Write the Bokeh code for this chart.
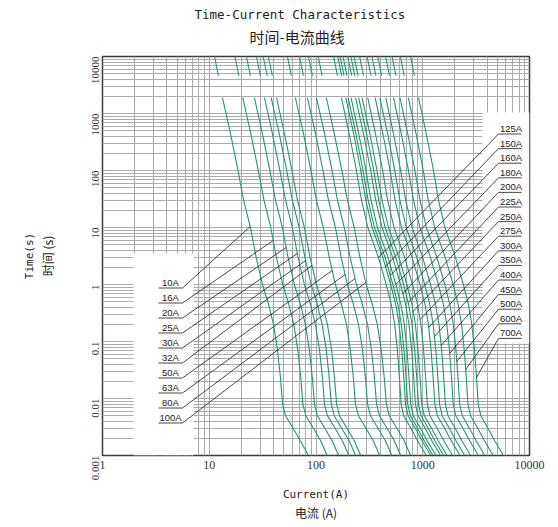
import math
import numpy as np
from bokeh.plotting import figure
from bokeh.models import FixedTicker, LogAxis, Title
from bokeh.core.properties import value
from bokeh.embed import file_html
from bokeh.resources import INLINE

# ---------------- data ----------------
ratings = ["10A", "16A", "20A", "25A", "30A", "32A", "50A", "63A", "80A", "100A",
           "125A", "150A", "160A", "180A", "200A", "225A", "250A", "275A", "300A",
           "350A", "400A", "450A", "500A", "600A", "700A"]

# time levels (s) at which each curve's current (A) was read
times = [10000, 4600, 1900, 450, 110, 30, 10, 3, 1, 0.45, 0.2, 0.07, 0.023,
         0.008, 0.005, 0.003, 0.0018, 0.001]

i_10A = [11.2, 12.2, 13.3, 15.8, 18.4, 21.0, 24.3, 27.5, 31.5, 35.9, 40.0, 43.6, 46.5, 48.6, 51.8, 61.0, 71.6, 85.0]
i_16A = [17.4, 18.9, 20.6, 24.5, 28.5, 32.6, 37.7, 42.6, 48.8, 55.6, 62.0, 67.6, 72.1, 75.3, 80.3, 94.6, 111, 127]
i_20A = [22.3, 24.3, 26.5, 31.4, 36.6, 41.8, 48.4, 54.7, 62.7, 71.4, 79.6, 86.8, 92.5, 96.7, 103, 121, 142, 163]
i_25A = [27.7, 30.1, 32.9, 39.0, 45.4, 51.9, 60.0, 67.9, 77.8, 88.7, 98.8, 108, 115, 120, 128, 151, 177, 203]
i_30A = [32.0, 34.9, 38.0, 45.2, 52.6, 60.1, 69.5, 78.7, 90.1, 103, 114, 125, 133, 139, 148, 174, 205, 235]
i_32A = [35.8, 39.0, 42.6, 50.6, 58.9, 67.2, 77.8, 88.0, 101, 115, 128, 140, 149, 156, 166, 195, 229, 262]
i_50A = [54.0, 58.8, 64.1, 76.2, 88.7, 101, 117, 133, 152, 173, 193, 210, 224, 234, 250, 294, 345, 395]
i_63A = [70.0, 76.3, 83.1, 98.8, 115, 131, 152, 172, 197, 224, 250, 273, 291, 304, 324, 381, 448, 513]
i_80A = [85.0, 92.6, 101, 120, 140, 159, 184, 209, 239, 272, 304, 331, 353, 369, 393, 463, 543, 622]
i_100A = [105, 114, 125, 148, 173, 197, 228, 258, 295, 337, 375, 409, 436, 456, 486, 572, 672, 769]
i_125A = [146, 159, 173, 204, 237, 267, 306, 384, 455, 507, 546, 579, 605, 627, 663, 774, 897, 1079]
i_150A = [160, 174, 190, 225, 260, 293, 336, 422, 501, 558, 601, 636, 665, 689, 729, 851, 987, 1187]
i_160A = [168, 183, 200, 236, 273, 308, 353, 443, 525, 585, 630, 668, 698, 723, 765, 893, 1035, 1245]
i_180A = [179, 195, 213, 251, 291, 328, 376, 472, 560, 624, 672, 712, 744, 771, 816, 952, 1104, 1328]
i_200A = [198, 216, 235, 278, 322, 363, 416, 522, 620, 690, 743, 788, 823, 853, 903, 1053, 1221, 1469]
i_225A = [212, 231, 251, 297, 344, 387, 444, 558, 662, 737, 794, 841, 879, 911, 964, 1125, 1304, 1569]
i_250A = [227, 248, 270, 319, 369, 416, 477, 599, 711, 792, 853, 903, 944, 978, 1035, 1208, 1401, 1685]
i_275A = [256, 279, 305, 360, 417, 469, 538, 676, 802, 893, 962, 1019, 1065, 1104, 1168, 1363, 1580, 1901]
i_300A = [301, 328, 358, 422, 490, 551, 632, 794, 942, 1049, 1130, 1197, 1251, 1297, 1372, 1601, 1856, 2233]
i_350A = [334, 364, 396, 468, 542, 611, 700, 879, 1043, 1162, 1252, 1326, 1386, 1436, 1520, 1773, 2056, 2473]
i_400A = [379, 412, 450, 531, 615, 693, 794, 997, 1183, 1318, 1420, 1504, 1572, 1629, 1724, 2011, 2332, 2805]
i_450A = [448, 488, 532, 628, 728, 820, 940, 1180, 1400, 1560, 1680, 1780, 1860, 1928, 2040, 2380, 2760, 3320]
i_500A = [515, 561, 612, 722, 837, 943, 1081, 1357, 1610, 1794, 1932, 2047, 2139, 2217, 2346, 2737, 3174, 3818]
i_600A = [616, 671, 732, 864, 1001, 1128, 1293, 1623, 1925, 2145, 2310, 2448, 2558, 2651, 2805, 3273, 3795, 4565]
i_700A = [768, 837, 912, 1077, 1249, 1406, 1612, 2024, 2401, 2675, 2881, 3053, 3190, 3307, 3499, 4082, 4733, 5694]

x_ticks = [1, 10, 100, 1000, 10000]
x_tick_labels = ["1", "10", "100", "1000", "10000"]
y_ticks = [0.001, 0.01, 0.1, 1, 10, 100, 1000, 10000]
y_tick_labels = ["0.001", "0.01", "0.1", "1", "10", "100", "1000", "10000"]

title_en = "Time-Current Characteristics"
title_zh = "时间-电流曲线"
xlabel_en = "Current(A)"
xlabel_zh = "电流 (A)"
ylabel_en = "Time(s)"
ylabel_zh = "时间 (s)"

curves = [i_10A, i_16A, i_20A, i_25A, i_30A, i_32A, i_50A, i_63A, i_80A, i_100A,
          i_125A, i_150A, i_160A, i_180A, i_200A, i_225A, i_250A, i_275A, i_300A,
          i_350A, i_400A, i_450A, i_500A, i_600A, i_700A]

# ---------------- layout ----------------
W, H = 558, 527
ML, MR, MT, MB = 102, 29, 56, 72
PAGE = 0
FX0, FX1 = PAGE + ML, PAGE + W - MR          # frame in page px
FY0, FY1 = PAGE + MT, PAGE + H - MB
XMIN, XMAX, YMIN, YMAX = 1.0, 10000.0, 0.001, 10000.0
LX = math.log10(XMAX) - math.log10(XMIN)
LY = math.log10(YMAX) - math.log10(YMIN)


def px2x(px):
    return 10 ** (math.log10(XMIN) + (px - FX0) / (FX1 - FX0) * LX)


def py2y(py):
    return 10 ** (math.log10(YMAX) - (py - FY0) / (FY1 - FY0) * LY)


GREEN = "#1d9a6c"
GRID = "#ababab"
INK = "#222222"
MONO = "DejaVu Sans Mono"
CJK = "Noto Sans CJK SC"
SANS = "Liberation Sans"

p = figure(width=W, height=H, x_axis_type="log", y_axis_type="log",
           x_range=(XMIN, XMAX), y_range=(YMIN, YMAX),
           output_backend="svg", toolbar_location=None,
           min_border_left=ML, min_border_right=MR,
           min_border_top=MT, min_border_bottom=MB)
p.background_fill_color = "white"
p.border_fill_color = "white"
p.outline_line_color = "#3a3a3a"
p.outline_line_width = 1.5

# titles: p.title ends up outermost, the added Title sits next to the frame
p.title.text = title_en
p.title.text_font = MONO
p.title.text_font_size = "12.5px"
p.title.text_font_style = "normal"
p.title.text_color = INK
p.title.align = "left"
p.title.offset = 92
p.title.standoff = -7
p.add_layout(Title(text=title_zh, text_font=CJK, text_font_size="15px",
                   text_font_style="normal", text_color=INK, align="left",
                   vertical_align="top", offset=147, standoff=15), "above")

x_minor = [k * 10 ** e for e in range(0, 4) for k in range(2, 10)]
y_minor = [k * 10.0 ** e for e in range(-3, 4) for k in range(2, 10)]
xt = FixedTicker(ticks=x_ticks, minor_ticks=x_minor)
yt = FixedTicker(ticks=y_ticks, minor_ticks=y_minor)
p.xaxis.ticker = xt
p.yaxis.ticker = yt
p.xgrid.ticker = xt
p.ygrid.ticker = yt
p.xaxis.major_label_overrides = {t: s for t, s in zip(x_ticks, x_tick_labels)}
p.yaxis.major_label_overrides = {t: s for t, s in zip(y_ticks, y_tick_labels)}
for ax in (p.xaxis, p.yaxis):
    ax.axis_line_color = None
    ax.major_tick_line_color = None
    ax.minor_tick_line_color = None
    ax.major_tick_out = 0
    ax.minor_tick_out = 0
    ax.major_label_text_font = "Liberation Serif"
    ax.major_label_text_color = "#333333"
    ax.axis_label_text_font_style = "normal"
    ax.axis_label_text_color = INK
p.xaxis.major_label_text_font_size = "12px"
p.xaxis.major_label_standoff = 5
p.xaxis.axis_label = xlabel_en
p.xaxis.axis_label_text_font = MONO
p.xaxis.axis_label_text_font_size = "11px"
p.xaxis.axis_label_standoff = 16
p.yaxis.major_label_text_font_size = "11px"
p.yaxis.major_label_orientation = math.pi / 2
p.yaxis.major_label_standoff = 7
p.yaxis.axis_label = ylabel_zh
p.yaxis.axis_label_text_font = CJK
p.yaxis.axis_label_text_font_size = "12px"
p.yaxis.axis_label_standoff = 30

empty = FixedTicker(ticks=[])
xa2 = LogAxis(ticker=empty, axis_label=xlabel_zh, axis_label_text_font=CJK,
              axis_label_text_font_size="12px", axis_label_text_font_style="normal",
              axis_label_text_color=INK, axis_label_standoff=0,
              axis_line_color=None, major_tick_line_color=None, minor_tick_line_color=None,
              major_tick_out=0, minor_tick_out=0, major_label_standoff=0)
p.add_layout(xa2, "below")
ya2 = LogAxis(ticker=empty, axis_label=ylabel_en, axis_label_text_font=MONO,
              axis_label_text_font_size="11px", axis_label_text_font_style="normal",
              axis_label_text_color=INK, axis_label_standoff=0,
              axis_line_color=None, major_tick_line_color=None, minor_tick_line_color=None,
              major_tick_out=0, minor_tick_out=0, major_label_standoff=0)
p.add_layout(ya2, "left")

for g in (p.xgrid, p.ygrid):
    g.grid_line_color = GRID
    g.grid_line_width = 1
    g.minor_grid_line_color = GRID
    g.minor_grid_line_width = 1

# white label boxes
p.quad(left=[px2x(133)], right=[px2x(193)], top=[py2y(253)], bottom=[YMIN],
       fill_color="white", line_color=None)
p.quad(left=[px2x(482)], right=[XMAX], top=[py2y(112)], bottom=[py2y(343)],
       fill_color="white", line_color=None)

# curves (gap between the top piece and the rest)
xs, ys = [], []
for cur in curves:
    xs.append(np.array(cur[:2] + [np.nan] + cur[2:], dtype=float))
    ys.append(np.array(times[:2] + [np.nan] + times[2:], dtype=float))
p.multi_line(xs, ys, line_color=GREEN, line_width=1.1)

lt = np.log10(np.array(times[2:], dtype=float))[::-1]


def curve_x_at(cur, t):
    li = np.log10(np.array(cur[2:], dtype=float))[::-1]
    return 10 ** np.interp(math.log10(t), lt, li)


# leader lines and labels
left_end_py = [226, 240, 247, 253, 260, 265, 270, 274, 278, 282]
right_end_py = [257, 266, 275, 284, 293, 302, 311, 319, 327, 336, 345, 353, 361, 369, 377]

sx0, sy0, sx1, sy1 = [], [], [], []
tx, ty, tt = [], [], []
for i in range(10):
    cy = 282 + 15 * i
    uy = cy + 5.5
    sx0.append(px2x(158)); sy0.append(py2y(uy)); sx1.append(px2x(182)); sy1.append(py2y(uy))
    et = py2y(left_end_py[i])
    sx0.append(px2x(182)); sy0.append(py2y(uy)); sx1.append(curve_x_at(curves[i], et)); sy1.append(et)
    tx.append(px2x(170)); ty.append(py2y(cy)); tt.append(ratings[i])
for j in range(15):
    k = 10 + j
    cy = 128 + 14.6 * j
    uy = cy + 5.5
    sx0.append(px2x(498)); sy0.append(py2y(uy)); sx1.append(px2x(521)); sy1.append(py2y(uy))
    et = py2y(right_end_py[j])
    sx0.append(px2x(498)); sy0.append(py2y(uy)); sx1.append(curve_x_at(curves[k], et)); sy1.append(et)
    tx.append(px2x(510.5)); ty.append(py2y(cy)); tt.append(ratings[k])

p.segment(x0=sx0, y0=sy0, x1=sx1, y1=sy1, line_color="#1a1a1a", line_width=0.8)
p.text(x=tx, y=ty, text=tt, text_font=value(SANS), text_font_size="9.5px",
       text_align="center", text_baseline="middle", text_color=INK)

open("out.html", "w").write(file_html(p, INLINE))
